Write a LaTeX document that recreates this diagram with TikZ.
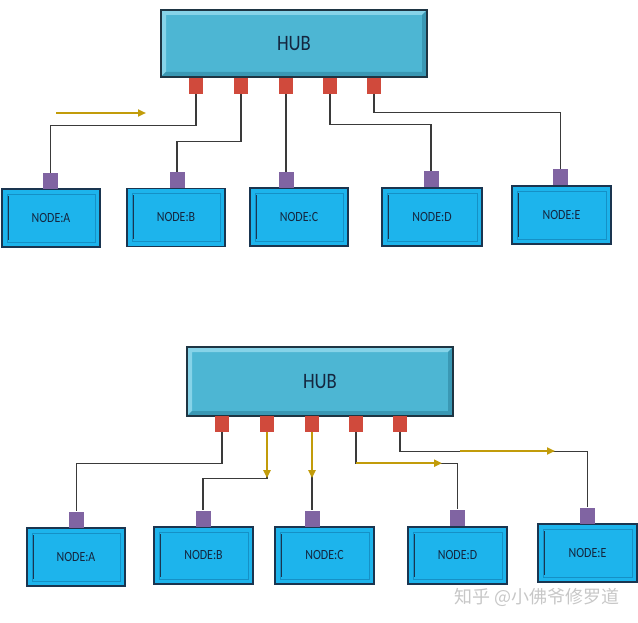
\documentclass[tikz,border=0pt]{standalone}
\usepackage{fontspec}
\setmainfont{Carlito}
\newfontfamily\labelfont[FakeStretch=0.85]{Carlito}
\newfontfamily\cjkfont{Noto Sans CJK SC}
\usetikzlibrary{arrows.meta,calc}
\definecolor{hubfill}{HTML}{4DB6D3}
\definecolor{hubhi}{HTML}{86D3E8}
\definecolor{hubsh}{HTML}{3A98B4}
\definecolor{hubline}{HTML}{1E3543}
\definecolor{nodefill}{HTML}{1DB4EC}
\definecolor{nodeline}{HTML}{1A3550}
\definecolor{nodeinner}{HTML}{1590C6}
\definecolor{portred}{HTML}{D04A3C}
\definecolor{portpurple}{HTML}{8064A2}
\definecolor{wirec}{HTML}{3A3A3A}
\definecolor{flowc}{HTML}{C29C0A}
\definecolor{txtc}{HTML}{14263F}
\begin{document}
\begin{tikzpicture}[x=1pt,y=-1pt,
  hubbox/.style={rectangle, minimum width=266pt, minimum height=67pt, inner sep=0pt,
    fill=hubfill, draw=hubline, line width=1.6pt, text=txtc,
    font=\labelfont\fontsize{22}{22}\selectfont,
    path picture={
      \fill[hubhi] (path picture bounding box.north west) -- (path picture bounding box.north east)
        -- ([xshift=-5pt,yshift=-5pt]path picture bounding box.north east)
        -- ([xshift=5pt,yshift=-5pt]path picture bounding box.north west)
        -- ([xshift=5pt,yshift=5pt]path picture bounding box.south west)
        -- (path picture bounding box.south west) -- cycle;
      \fill[hubsh] (path picture bounding box.south east) -- (path picture bounding box.north east)
        -- ([xshift=-5pt,yshift=-5pt]path picture bounding box.north east)
        -- ([xshift=-5pt,yshift=5pt]path picture bounding box.south east)
        -- ([xshift=5pt,yshift=5pt]path picture bounding box.south west)
        -- (path picture bounding box.south west) -- cycle;
    }},
  nodebox/.style={rectangle, minimum width=98pt, minimum height=58pt, inner sep=0pt,
    fill=nodefill, draw=nodeline, line width=1.8pt, text=txtc,
    font=\labelfont\fontsize{14}{14}\selectfont,
    path picture={
      \draw[nodeinner, line width=0.9pt] ([xshift=5pt,yshift=-5pt]path picture bounding box.north west)
        rectangle ([xshift=-5pt,yshift=5pt]path picture bounding box.south east);
      \draw[nodeline, line width=1.6pt] ([xshift=6.5pt,yshift=-7pt]path picture bounding box.north west)
        -- ([xshift=6.5pt,yshift=7pt]path picture bounding box.south west);
    }},
  redport/.style={rectangle, minimum width=14pt, minimum height=16pt, inner sep=0pt, fill=portred},
  purport/.style={rectangle, minimum width=15pt, minimum height=16pt, inner sep=0pt, fill=portpurple},
  wire/.style={draw=wirec, line width=1.1pt},
  flow/.style={draw=flowc, line width=2pt, -{Triangle[length=8pt,width=7pt]}},
]
\useasboundingbox (0,0) rectangle (638,623);

% ===== top diagram =====
\node[hubbox] (hubT) at (294,43.5) {HUB};
\foreach \i/\x in {1/196,2/241,3/286,4/330,5/374}
  \node[redport] (tp\i) at (\x,86) {};

\node[nodebox] (tA) at (51,218) {NODE:A};
\node[nodebox] (tB) at (176,217.5) {NODE:B};
\node[nodebox] (tC) at (299,217) {NODE:C};
\node[nodebox, minimum width=100pt] (tD) at (432,217) {NODE:D};
\node[nodebox, minimum width=99pt] (tE) at (561.5,215) {NODE:E};

\node[purport] (tqA) at (50.5,181) {};
\node[purport] (tqB) at (177,180) {};
\node[purport] (tqC) at (286,180) {};
\node[purport] (tqD) at (431,179.5) {};
\node[purport] (tqE) at (560.5,177.5) {};

\draw[wire] (tp1.south) -- ++(0,31) -| (tqA.north);
\draw[wire] (tp2.south) -- ++(0,47) -| (tqB.north);
\draw[wire] (tp3.south) -- (tqC.north);
\draw[wire] (tp4.south) -- ++(0,30) -| (tqD.north);
\draw[wire] (tp5.south) -- ++(0,18) -| (tqE.north);

\coordinate (fs) at (56,113);
\coordinate (fe) at (146,113);
\draw[flow] (fs) -- (fe);

% ===== bottom diagram =====
\node[hubbox, minimum height=69pt] (hubB) at (320,381.5) {HUB};
\foreach \i/\x in {1/222,2/267,3/312,4/356,5/400}
  \node[redport] (bp\i) at (\x,424) {};

\node[nodebox] (bA) at (76,557) {NODE:A};
\node[nodebox, minimum width=99pt, minimum height=57pt] (bB) at (203.5,555.5) {NODE:B};
\node[nodebox, minimum width=99pt, minimum height=57pt] (bC) at (324.5,555.5) {NODE:C};
\node[nodebox, minimum width=99pt, minimum height=57pt] (bD) at (457.5,555.5) {NODE:D};
\node[nodebox, minimum width=99pt] (bE) at (587.5,553) {NODE:E};

\node[purport] (bqA) at (76.5,519.5) {};
\node[purport] (bqB) at (203,518.5) {};
\node[purport] (bqC) at (312,518.5) {};
\node[purport] (bqD) at (457.5,517.5) {};
\node[purport] (bqE) at (587.5,515.5) {};

\draw[wire] (bp1.south) -- ++(0,31) -| (bqA.north);
\draw[wire] (bp2.south) -- ++(0,46) coordinate (kB) -| (bqB.north);
\draw[flow] (bp2.south) -- (kB);
\draw[wire] (bp3.south) -- (bqC.north);
\draw[flow] (bp3.south) -- ++(0,46);
\draw[wire] (bp4.south) -- ++(0,31) coordinate (kD) -| (bqD.north);
\draw[flow] (kD) -- ++(86,0);
\draw[wire] (bp5.south) -- ++(0,19) -| (bqE.north);
\coordinate (fEs) at (460,451);
\coordinate (fEe) at (555,451);
\draw[flow] (fEs) -- (fEe);

% watermark
\node[text=black!22, font=\cjkfont\fontsize{18}{18}\selectfont] (wm) at (537,597) {知乎 @小佛爷修罗道};
\end{tikzpicture}
\end{document}
